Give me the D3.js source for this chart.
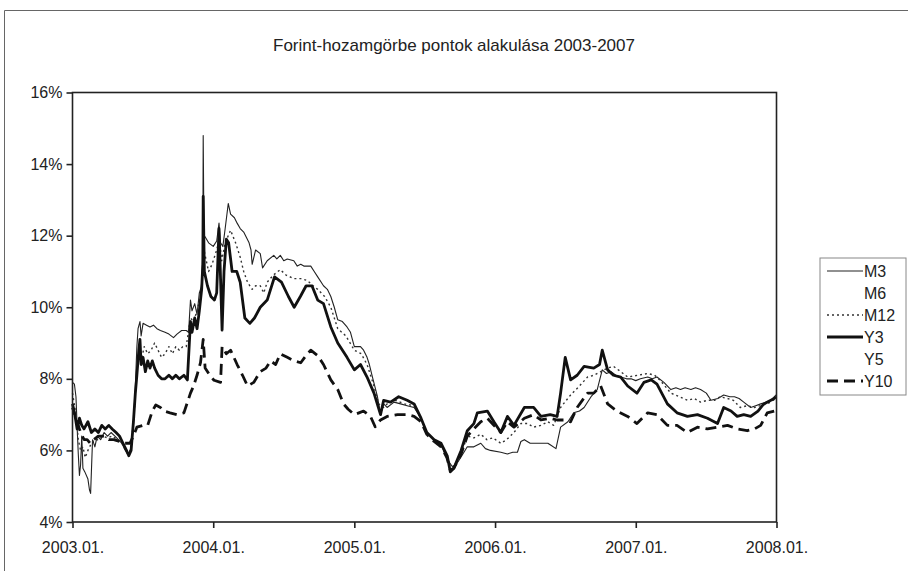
<!DOCTYPE html>
<html>
<head>
<meta charset="utf-8">
<script src="https://cdn.jsdelivr.net/npm/d3@7"></script>
<style>
  body { margin: 0; background: #fff; }
  svg { font-family: "Liberation Sans", Arial, sans-serif; }
</style>
</head>
<body>
<div id="chart"></div>
<script>
// series as [months since 2003.01., yield %]
var m3Data = [[0,7.9],[0.15,7.85],[0.3,7.5],[0.42,6.4],[0.5,5.9],[0.6,5.3],[0.7,5.6],[0.8,6.4],[0.9,5.5],[1.05,5.4],[1.3,5.2],[1.45,4.9],[1.55,4.8],[1.7,6.3],[1.9,6.1],[2.1,6.4],[2.4,6.3],[2.7,6.5],[3.0,6.4],[3.3,6.5],[3.6,6.4],[3.9,6.3],[4.2,6.2],[4.5,6.0],[4.7,5.9],[4.85,5.95],
  [5.0,6.1],[5.2,6.7],[5.35,7.8],[5.5,8.9],[5.6,9.4],[5.75,9.6],[5.85,9.2],[6.0,9.55],[6.3,9.5],[6.6,9.45],[6.9,9.5],[7.2,9.4],[7.5,9.35],[7.9,9.3],[8.2,9.25],[8.6,9.15],[8.9,9.25],[9.3,9.35],[9.7,9.35],[9.9,9.3],[10.06,10.2],[10.2,9.9],[10.4,10.1],[10.6,9.8],[10.8,10.4],[11.0,10.6],[11.1,11.5],[11.14,14.8],[11.2,12.0],[11.33,11.95],[11.6,11.8],[12.0,11.7],[12.3,11.85],[12.47,12.35],[12.6,11.8],[12.8,11.7],[13.0,12.2],[13.27,12.9],[13.47,12.6],[13.8,12.5],[14.03,12.35],[14.3,12.2],[14.6,12.1],[15.03,11.8],[15.2,11.6],[15.3,11.2],[15.6,11.6],[16.0,11.5],[16.2,11.1],[16.6,11.3],[17.16,11.45],[17.4,11.35],[17.7,11.45],[18.0,11.3],[18.3,11.35],[18.86,11.3],[19.15,11.15],[19.44,11.2],[19.7,11.15],[20.3,11.15],[20.6,11.0],[20.9,10.85],[21.4,10.6],[21.7,10.5],[22.0,10.3],[22.3,10.0],[22.6,9.65],[23.0,9.6],[23.4,9.45],[23.7,9.3],[24.0,8.9],[24.55,8.9],[24.8,8.8],[25.1,8.6],[25.3,8.4],[25.55,8.05],[25.97,7.5],[26.26,7.0],[26.5,7.3],[26.8,7.2],[27.4,7.35],[27.96,7.3],[28.5,7.25],[29.1,7.2],[29.7,6.9],[30.2,6.5],[30.8,6.3],[31.4,6.15],[31.94,5.75],[32.37,5.55],[32.7,5.6],[33.08,5.8],[33.65,6.1],[34.2,6.1],[34.8,6.2],[35.2,6.05],[35.6,6.0],[36.5,5.95],[37.05,5.9],[37.5,5.95],[37.9,5.95],[38.19,6.25],[38.5,6.3],[39.0,6.2],[39.3,6.2],[39.9,6.2],[40.5,6.2],[40.75,6.15],[41.2,6.05],[41.6,6.65],[42.2,6.8],[42.7,7.05],[43.2,7.1],[43.6,7.2],[44.2,7.5],[44.7,7.7],[45.15,8.25],[45.5,8.15],[45.9,8.2],[46.3,8.1],[46.7,8.05],[47.2,8.0],[47.6,8.0],[48.0,7.95],[48.4,8.0],[49.0,8.05],[49.4,8.0],[49.8,8.05],[50.4,7.9],[50.97,7.7],[51.4,7.75],[51.8,7.7],[52.2,7.75],[52.7,7.7],[53.1,7.75],[53.5,7.7],[54.0,7.6],[54.4,7.4],[55.0,7.45],[55.5,7.55],[56.0,7.5],[56.4,7.5],[56.8,7.45],[57.2,7.35],[57.8,7.2],[58.2,7.25],[58.65,7.3],[59.1,7.35],[59.5,7.4],[59.95,7.55]];

var m6Data = [[0,7.8],[1,6.0],[2,6.3],[3,6.4],[4,6.3],[5,6.0],[6,9.1],[7,9.1],[8,9.0],[9,9.1],[10,9.8],[11,10.8],[12,11.7],[13,12.4],[14,12.0],[15,11.0],[16,11.0],[17,11.2],[18,11.1],[19,11.0],[20,10.9],[21,10.4],[22,10.0],[23,9.2],[24,8.8],[25,8.4],[26,7.2],[27,7.3],[28,7.3],[29,7.1],[30,6.4],[31,6.1],[32,5.5],[33,6.0],[34,6.3],[35,6.3],[36,6.1],[37,6.2],[38,6.5],[39,6.5],[40,6.5],[41,6.6],[42,7.4],[43,7.8],[44,8.0],[45,8.3],[46,8.2],[47,8.0],[48,8.0],[49,8.1],[50,8.0],[51,7.6],[52,7.5],[53,7.5],[54,7.4],[55,7.5],[56,7.4],[57,7.2],[58,7.2],[59,7.4],[59.95,7.5]];

var m12Data = [[0,7.6],[0.3,7.0],[0.5,6.3],[0.7,6.0],[0.9,6.1],[1.1,5.8],[1.3,6.0],[1.6,6.2],[1.9,6.3],[2.2,6.3],[2.6,6.4],[3.0,6.35],[3.4,6.4],[3.8,6.3],[4.2,6.2],[4.6,5.95],[4.8,5.9],[5.0,6.1],[5.3,7.2],[5.5,8.3],[5.7,8.8],[5.9,8.6],[6.1,8.9],[6.4,8.7],[6.7,8.8],[7.0,9.0],[7.3,8.8],[7.6,8.6],[7.9,8.7],[8.2,8.9],[8.5,8.7],[8.8,8.9],[9.1,8.8],[9.4,8.9],[9.7,8.9],[10.06,9.7],[10.3,9.6],[10.6,9.9],[10.9,10.3],[11.1,11.0],[11.14,12.6],[11.2,11.6],[11.6,11.0],[11.9,11.2],[12.3,11.6],[12.5,11.9],[12.7,11.3],[13.0,11.8],[13.47,12.15],[13.9,11.8],[14.3,11.4],[14.6,11.0],[14.9,10.7],[15.3,10.5],[15.6,10.6],[16.0,10.6],[16.3,10.4],[16.6,10.7],[17.1,10.9],[17.7,11.05],[18.2,10.9],[18.86,10.8],[19.44,10.8],[20.0,10.75],[20.5,10.6],[20.9,10.5],[21.5,10.3],[22.0,10.0],[22.6,9.4],[23.3,9.2],[24.0,8.8],[24.6,8.7],[25.1,8.4],[25.7,7.8],[26.1,7.3],[26.5,7.2],[26.8,7.3],[27.5,7.4],[28.3,7.3],[29.1,7.25],[29.7,6.9],[30.2,6.5],[30.8,6.3],[31.4,6.15],[31.9,5.8],[32.3,5.45],[32.7,5.6],[33.1,5.9],[33.65,6.4],[34.2,6.35],[34.8,6.45],[35.3,6.3],[35.8,6.35],[36.5,6.2],[37.0,6.3],[37.6,6.5],[38.2,6.75],[38.76,6.75],[39.3,6.65],[39.9,6.7],[40.5,6.8],[41.0,6.7],[41.6,7.2],[42.45,7.55],[43.2,7.8],[43.9,8.05],[44.4,8.1],[45.0,8.2],[45.6,8.3],[46.1,8.35],[46.7,8.2],[47.3,8.05],[48.2,8.1],[49.0,8.15],[49.6,8.1],[50.1,7.95],[50.97,7.6],[51.7,7.5],[52.4,7.4],[53.0,7.45],[53.5,7.35],[54.1,7.4],[54.7,7.4],[55.2,7.5],[55.8,7.45],[56.3,7.4],[56.9,7.2],[57.5,7.25],[58.1,7.2],[58.6,7.25],[59.2,7.3],[59.95,7.45]];

var y3Data = [[0,7.2],[0.2,7.0],[0.4,6.6],[0.6,6.9],[0.8,6.7],[1.0,6.6],[1.3,6.8],[1.6,6.5],[1.9,6.6],[2.2,6.5],[2.5,6.7],[2.8,6.6],[3.1,6.7],[3.4,6.6],[3.7,6.5],[4.0,6.4],[4.3,6.2],[4.6,6.0],[4.8,5.85],[5.0,6.0],[5.2,6.8],[5.35,7.6],[5.5,8.1],[5.65,8.8],[5.75,9.1],[5.85,8.4],[6.0,8.6],[6.2,8.2],[6.4,8.5],[6.6,8.3],[6.8,8.5],[7.0,8.3],[7.3,8.1],[7.6,8.0],[7.9,8.0],[8.2,8.1],[8.5,8.0],[8.8,8.1],[9.1,8.0],[9.5,8.1],[9.8,7.97],[10.06,9.6],[10.2,9.3],[10.4,9.7],[10.6,9.4],[10.8,9.9],[11.0,10.5],[11.1,11.2],[11.14,13.1],[11.25,11.0],[11.5,10.6],[11.8,10.3],[12.1,10.2],[12.3,10.4],[12.47,12.2],[12.6,10.8],[12.76,9.36],[12.9,11.0],[13.1,11.9],[13.3,11.8],[13.6,11.0],[14.0,11.0],[14.3,10.7],[14.7,9.7],[15.1,9.55],[15.5,9.7],[16.0,10.0],[16.6,10.2],[17.2,10.85],[17.8,10.7],[18.4,10.3],[18.9,10.0],[19.4,10.3],[19.9,10.6],[20.4,10.6],[20.9,10.2],[21.4,10.1],[22.0,9.45],[22.6,9.0],[23.4,8.6],[24.0,8.25],[24.55,8.4],[25.1,8.05],[25.7,7.6],[26.26,7.0],[26.5,7.4],[27.1,7.35],[27.8,7.5],[28.5,7.4],[29.1,7.3],[29.7,6.9],[30.2,6.5],[30.8,6.3],[31.4,6.2],[31.94,5.85],[32.2,5.4],[32.5,5.5],[33.1,6.0],[33.65,6.55],[34.2,6.75],[34.5,7.05],[35.35,7.1],[35.9,6.8],[36.5,6.5],[37.05,6.95],[37.6,6.7],[38.5,7.2],[39.3,7.2],[39.9,6.95],[40.7,7.0],[41.3,6.95],[41.6,7.6],[42.0,8.6],[42.45,7.97],[43.0,8.1],[43.6,8.35],[44.4,8.3],[44.9,8.4],[45.15,8.8],[45.6,8.25],[46.1,8.1],[46.7,8.05],[47.3,7.8],[48.1,7.6],[48.7,7.9],[49.3,7.97],[49.8,7.85],[50.7,7.3],[51.5,7.05],[52.4,6.95],[53.25,7.0],[54.1,6.9],[54.95,6.75],[55.5,7.2],[56.1,7.1],[56.65,6.95],[57.2,7.0],[57.8,6.95],[58.4,7.1],[58.9,7.3],[59.8,7.45],[59.95,7.5]];

var y5Data = [[0,7.2],[1,6.5],[2,6.5],[3,6.6],[4,6.4],[5,5.9],[6,7.6],[7,7.6],[8,7.5],[9,7.5],[10,8.5],[11,9.6],[12,9.0],[13,10.0],[14,9.6],[15,8.7],[16,9.1],[17,9.6],[18,9.4],[19,9.3],[20,9.6],[21,9.2],[22,8.6],[23,8.0],[24,7.6],[25,7.4],[26,7.0],[27,7.3],[28,7.3],[29,7.1],[30,6.4],[31,6.1],[32,5.4],[33,5.9],[34,6.7],[35,7.0],[36,6.6],[37,6.8],[38,7.1],[39,7.1],[40,6.9],[41,6.9],[42,8.0],[43,7.8],[44,8.0],[45,8.3],[46,7.6],[47,7.4],[48,7.2],[49,7.5],[50,7.5],[51,6.9],[52,6.7],[53,6.8],[54,6.7],[55,6.9],[56,6.8],[57,6.8],[58,6.9],[59,7.2],[59.95,7.3]];

var y10Data = [[0,7.3],[0.2,7.0],[0.4,6.8],[0.7,6.5],[1.0,6.3],[1.25,6.3],[1.5,6.2],[1.8,6.3],[2.2,6.4],[2.7,6.4],[3.1,6.3],[3.5,6.3],[4.0,6.25],[4.4,6.2],[4.9,6.2],[5.2,6.4],[5.5,6.65],[6.0,6.7],[6.4,6.7],[6.8,7.1],[7.1,7.27],[7.5,7.2],[7.8,7.1],[8.3,7.05],[8.9,7.0],[9.5,7.05],[10.06,7.6],[10.3,7.8],[10.6,8.1],[10.9,8.45],[11.14,9.1],[11.3,8.3],[11.7,8.1],[12.05,7.96],[12.6,7.9],[12.76,8.9],[13.1,8.7],[13.47,8.8],[14.03,8.4],[14.5,8.1],[14.9,7.8],[15.45,7.9],[16.0,8.2],[16.5,8.3],[16.9,8.5],[17.3,8.4],[17.7,8.7],[18.3,8.6],[18.9,8.5],[19.44,8.45],[20.0,8.7],[20.3,8.8],[20.9,8.65],[21.4,8.4],[22.0,7.97],[22.6,7.7],[23.1,7.3],[23.5,7.15],[24.0,7.0],[24.4,7.05],[24.8,7.1],[25.4,6.95],[25.8,6.66],[26.26,6.85],[26.8,6.95],[27.7,7.0],[28.5,7.0],[29.1,6.95],[29.7,6.8],[30.2,6.45],[30.8,6.25],[31.4,6.1],[31.9,5.8],[32.2,5.45],[32.5,5.5],[33.1,5.9],[33.65,6.4],[34.2,6.6],[34.8,6.8],[35.35,6.9],[35.9,6.7],[36.5,6.5],[37.05,6.8],[37.6,6.65],[38.5,6.9],[39.3,7.0],[39.9,6.85],[40.7,6.9],[41.3,6.85],[41.9,6.85],[42.45,6.8],[43.0,7.2],[43.9,7.6],[44.4,7.6],[45.0,7.8],[45.6,7.3],[46.4,7.1],[47.3,6.95],[48.1,6.75],[49.0,7.05],[49.8,7.0],[50.7,6.7],[51.5,6.7],[52.4,6.5],[53.25,6.65],[54.1,6.6],[54.95,6.65],[55.8,6.7],[56.65,6.6],[57.5,6.55],[58.1,6.6],[58.65,6.7],[59.2,7.05],[59.8,7.1]];

var seriesNames = ["M3", "M6", "M12", "Y3", "Y5", "Y10"];
var yTicks = [4, 6, 8, 10, 12, 14, 16];
var xTickYears = [2003, 2004, 2005, 2006, 2007, 2008];
var title = "Forint-hozamgörbe pontok alakulása 2003-2007";

var width = 908, height = 571;
var plot = {left: 72.5, top: 92.5, right: 776.5, bottom: 522};

var start = new Date(2003, 0, 1);
function toDate(m) { return d3.timeDay.offset(start, Math.round(m * 30.44)); }

var x = d3.scaleTime()
    .domain([start, new Date(2008, 0, 1)])
    .range([plot.left, plot.right]);
var y = d3.scaleLinear().domain([4, 16]).range([plot.bottom, plot.top]);

var svg = d3.select("#chart").append("svg")
    .attr("width", width)
    .attr("height", height);

// outer chart border (cut at right and bottom)
svg.append("path")
    .attr("d", "M4.5,571 V10.5 H908")
    .attr("fill", "none")
    .attr("stroke", "#666")
    .attr("stroke-width", 1);

svg.append("text")
    .attr("x", 454).attr("y", 51)
    .attr("text-anchor", "middle")
    .style("font-size", "17px")
    .attr("fill", "#222")
    .text(title);

var line = d3.line()
    .x(function(d) { return x(toDate(d[0])); })
    .y(function(d) { return y(d[1]); });

// style per series, same order as seriesNames
var styles = {
  M3:  {data: m3Data,  stroke: "#222", width: 1.1, dash: null},
  M6:  {data: m6Data,  stroke: "#fff", width: 1,   dash: null},
  M12: {data: m12Data, stroke: "#333", width: 1.4, dash: "2,3"},
  Y3:  {data: y3Data,  stroke: "#111", width: 2.8, dash: null},
  Y5:  {data: y5Data,  stroke: "#fff", width: 1,   dash: null},
  Y10: {data: y10Data, stroke: "#111", width: 2.8, dash: "11,6"}
};

var drawOrder = ["M6", "Y5", "M3", "M12", "Y3", "Y10"];
var g = svg.append("g");
drawOrder.forEach(function(name) {
  var s = styles[name];
  g.append("path")
    .datum(s.data)
    .attr("d", line)
    .attr("fill", "none")
    .attr("stroke", s.stroke)
    .attr("stroke-width", s.width)
    .attr("stroke-dasharray", s.dash)
    .attr("stroke-linejoin", "round");
});

// plot frame
svg.append("rect")
    .attr("x", plot.left).attr("y", plot.top)
    .attr("width", plot.right - plot.left)
    .attr("height", plot.bottom - plot.top)
    .attr("fill", "none")
    .attr("stroke", "#222")
    .attr("stroke-width", 1.6);

var yAxis = svg.append("g")
    .attr("transform", "translate(" + plot.left + ",0)")
    .call(d3.axisLeft(y).tickValues(yTicks)
      .tickFormat(function(d) { return d + "%"; })
      .tickSize(6).tickPadding(4).tickSizeOuter(0));
var xAxis = svg.append("g")
    .attr("transform", "translate(0," + plot.bottom + ")")
    .call(d3.axisBottom(x)
      .tickValues(xTickYears.map(function(yr) { return new Date(yr, 0, 1); }))
      .tickFormat(d3.timeFormat("%Y.%m."))
      .tickSize(6).tickPadding(14).tickSizeOuter(0));

[yAxis, xAxis].forEach(function(ax) {
  ax.select(".domain").remove();
  ax.selectAll("line").attr("stroke", "#222").attr("stroke-width", 1.6);
  ax.selectAll("text")
    .style("font-size", "16px")
    .style("font-family", "'Liberation Sans', Arial, sans-serif")
    .attr("fill", "#222");
});

// legend
var lg = svg.append("g").attr("transform", "translate(820,258)");
lg.append("rect")
    .attr("x", 0).attr("y", 0)
    .attr("width", 86).attr("height", 137)
    .attr("fill", "#fff")
    .attr("stroke", "#888")
    .attr("stroke-width", 1);

seriesNames.forEach(function(name, i) {
  var s = styles[name];
  var cy = 13 + i * 22;
  lg.append("line")
    .attr("x1", 7).attr("x2", 43)
    .attr("y1", cy).attr("y2", cy)
    .attr("stroke", s.stroke)
    .attr("stroke-width", s.width)
    .attr("stroke-dasharray", s.dash);
  lg.append("text")
    .attr("x", 44).attr("y", cy)
    .attr("dy", "0.36em")
    .style("font-size", "16px")
    .attr("fill", "#222")
    .text(name);
});
</script>
</body>
</html>
